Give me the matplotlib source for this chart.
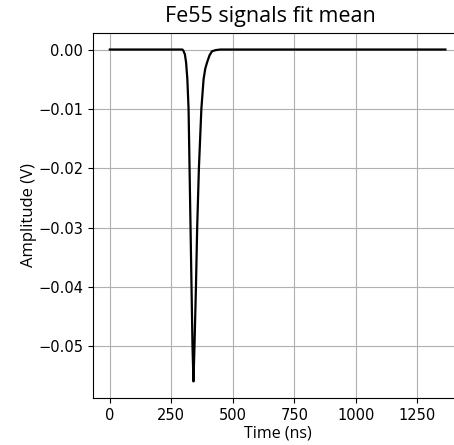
import matplotlib
matplotlib.use('Agg')
import matplotlib.pyplot as plt

# mean fitted Fe55 pulse
time_ns = [0, 280, 295, 299, 305, 310, 315, 320, 324, 328, 332, 336, 340,
           344, 350, 355, 362, 372, 381, 388, 395, 405, 415, 430, 449, 500, 1364]
amplitude_v = [0, 0, 0, -0.0002, -0.0008, -0.0022, -0.0050, -0.0100, -0.0200,
               -0.0300, -0.0400, -0.0500, -0.0559, -0.0500, -0.0400, -0.0300,
               -0.0200, -0.0100, -0.0050, -0.0032, -0.0022, -0.0010, -0.0003,
               -0.0001, 0, 0, 0]

if __name__ == "__main__":
    fig = plt.figure(figsize=(4.54, 4.45), dpi=100)
    ax = fig.add_axes([0.205, 0.1056, 0.813, 0.8204])

    ax.plot(time_ns, amplitude_v, color='black', linewidth=1.6)
    ax.grid(True, color='#b0b0b0', linewidth=0.8)
    ax.spines['right'].set_visible(False)

    fig.suptitle('Fe55 signals fit mean', x=0.595, y=0.951, va='baseline',
                 fontfamily='Open Sans', fontsize=15.5)
    ax.set_xlabel('Time (ns)', fontfamily='Open Sans', fontsize=11.5, labelpad=2)
    ax.set_ylabel('Amplitude (V)', fontfamily='Open Sans', fontsize=12, labelpad=1)
    ax.set_xticks([0, 250, 500, 750, 1000, 1250])
    ax.tick_params(labelsize=10.5)

    fig.savefig('out.png', dpi=100)
